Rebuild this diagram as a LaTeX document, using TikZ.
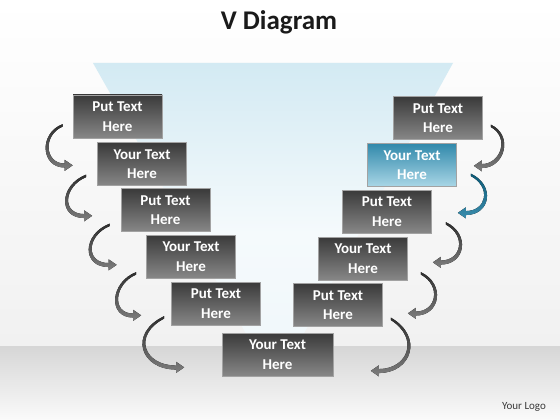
\documentclass[tikz,border=0pt]{standalone}
\usepackage{fontspec}
\setmainfont{Carlito}
\usetikzlibrary{calc}
\definecolor{boxtop}{HTML}{3A3A3A}
\definecolor{boxbot}{HTML}{878787}
\definecolor{boxline}{HTML}{A2A2A2}
\definecolor{bluetop}{HTML}{3189AB}
\definecolor{bluebot}{HTML}{A9D6E6}
\definecolor{ribtop}{HTML}{2E2E2E}
\definecolor{ribbot}{HTML}{7E7E7E}
\definecolor{ribbluetop}{HTML}{0D5A77}
\definecolor{ribbluebot}{HTML}{3A8DAD}
\definecolor{funnelA}{HTML}{BBDEEC}
\definecolor{funnelB}{HTML}{D3EAF3}
\definecolor{funnelC}{HTML}{F5FAFC}
\definecolor{funnelD}{HTML}{EDF6FA}
\definecolor{funnelE}{HTML}{D8EEF6}
\definecolor{floortop}{HTML}{D6D6D6}
\definecolor{floorbot}{HTML}{FAFAFA}
\definecolor{bgbot}{HTML}{F1F1F1}
\definecolor{titlecol}{HTML}{1A1A1A}
\definecolor{logocol}{HTML}{3A3A3A}
\pgfdeclareverticalshading{funnelshade}{100bp}{color(0bp)=(funnelE); color(12bp)=(funnelD); color(45bp)=(funnelC); color(75bp)=(funnelB); color(100bp)=(funnelA)}
\tikzset{
  vbox/.style={rectangle, minimum width=89pt, minimum height=43pt, inner sep=0pt,
    top color=boxtop, bottom color=boxbot, draw=boxline, line width=0.7pt,
    text=white, font=\fontsize{15}{19.5}\selectfont\bfseries, align=center},
  vboxblue/.style={vbox, top color=bluetop, bottom color=bluebot},
  ribgray/.style={top color=ribtop, bottom color=ribbot},
  ribblue/.style={top color=ribbluetop, bottom color=ribbluebot},
}
% #1 start coordinate, #2 xscale (1 bulges left, -1 bulges right), #3 k, #4 s, #5 tip x, #6 tip y, #7 style
\newcommand\ribbonarrow[7]{%
  \begin{scope}[shift={(#1)}, xscale=#2]
    \pgfmathsetmacro\hb{#5-8}
    \fill[#7] (0,-1.2) .. controls (-#3-2,#4*#3-1) and (\hb-#3-2,#6+2.2) .. (\hb,#6+2.2)
      -- (\hb,#6+5.5) -- (#5,#6) -- (\hb,#6-5.5) -- (\hb,#6-1.8)
      .. controls (\hb-#3+2,#6-1.8) and (-#3+2,#4*#3+1) .. (0,1.2) -- cycle;
  \end{scope}}
\begin{document}
\begin{tikzpicture}[x=1pt,y=-1pt]
\useasboundingbox (0,0) rectangle (560,420);
% background
\fill[top color=white, bottom color=bgbot] (0,0) rectangle (560,346);
\shade[shading=funnelshade]
  (93,63) -- (453,63) -- (297,346) -- (253,346) -- cycle;
\fill[top color=floortop, bottom color=floorbot] (0,346) rectangle (560,420);
% title and logo
\node[font=\fontsize{27}{30}\selectfont\bfseries, text=titlecol, anchor=base] (title) at (279,30) {V Diagram};
\node[font=\fontsize{11}{12}\selectfont, text=logocol, anchor=base] (logo) at (524,409) {Your Logo};
% boxes
\node[vbox] (L1) at (117.5,116.5) {Put Text\\Here};
\node[vbox] (L2) at (142,164) {Your Text\\Here};
\node[vbox] (L3) at (165.5,210) {Put Text\\Here};
\node[vbox] (L4) at (191,256.5) {Your Text\\Here};
\node[vbox] (L5) at (216,303.5) {Put Text\\Here};
\node[vbox, minimum width=111pt] (B) at (277.5,354.5) {Your Text\\Here};
\node[vbox] (R1) at (438,118) {Put Text\\Here};
\node[vboxblue] (R2) at (412,165) {Your Text\\Here};
\node[vbox] (R3) at (387,211.5) {Put Text\\Here};
\node[vbox] (R4) at (363,258.5) {Your Text\\Here};
\node[vbox] (R5) at (338,305) {Put Text\\Here};
% arrow start points
\coordinate (aL1) at ($(L1.south west)+(-10,-13)$);
\coordinate (aL2) at ($(L2.south west)+(-11,-10)$);
\coordinate (aL3) at ($(L3.south west)+(-11,-7)$);
\coordinate (aL4) at ($(L4.south west)+(-10,-5)$);
\coordinate (aL5) at ($(L5.south west)+(-7,-8)$);
\coordinate (aR1) at ($(R1.south east)+(8,-14)$);
\coordinate (aR2) at ($(R2.south east)+(14,-12)$);
\coordinate (aR3) at ($(R3.south east)+(14,-10)$);
\coordinate (aR4) at ($(R4.south east)+(13,-7)$);
\coordinate (aR5) at ($(R5.south east)+(8,-8)$);
% curved arrows
\ribbonarrow{aL1}{1}{22}{0.4}{10}{40}{ribgray}
\ribbonarrow{aL2}{1}{24.7}{0.4}{6}{40}{ribgray}
\ribbonarrow{aL3}{1}{25.3}{0.4}{7}{40}{ribgray}
\ribbonarrow{aL4}{1}{24}{0.4}{5}{42}{ribgray}
\ribbonarrow{aL5}{1}{34}{0.5}{20}{50}{ribgray}
\ribbonarrow{aR1}{-1}{21}{0.5}{17}{40}{ribgray}
\ribbonarrow{aR2}{-1}{22.7}{0.5}{13}{38}{ribblue}
\ribbonarrow{aR3}{-1}{22.7}{0.5}{13}{39}{ribgray}
\ribbonarrow{aR4}{-1}{22.7}{0.5}{13}{40}{ribgray}
\ribbonarrow{aR5}{-1}{31}{0.6}{20}{52}{ribgray}
\end{tikzpicture}
\end{document}
